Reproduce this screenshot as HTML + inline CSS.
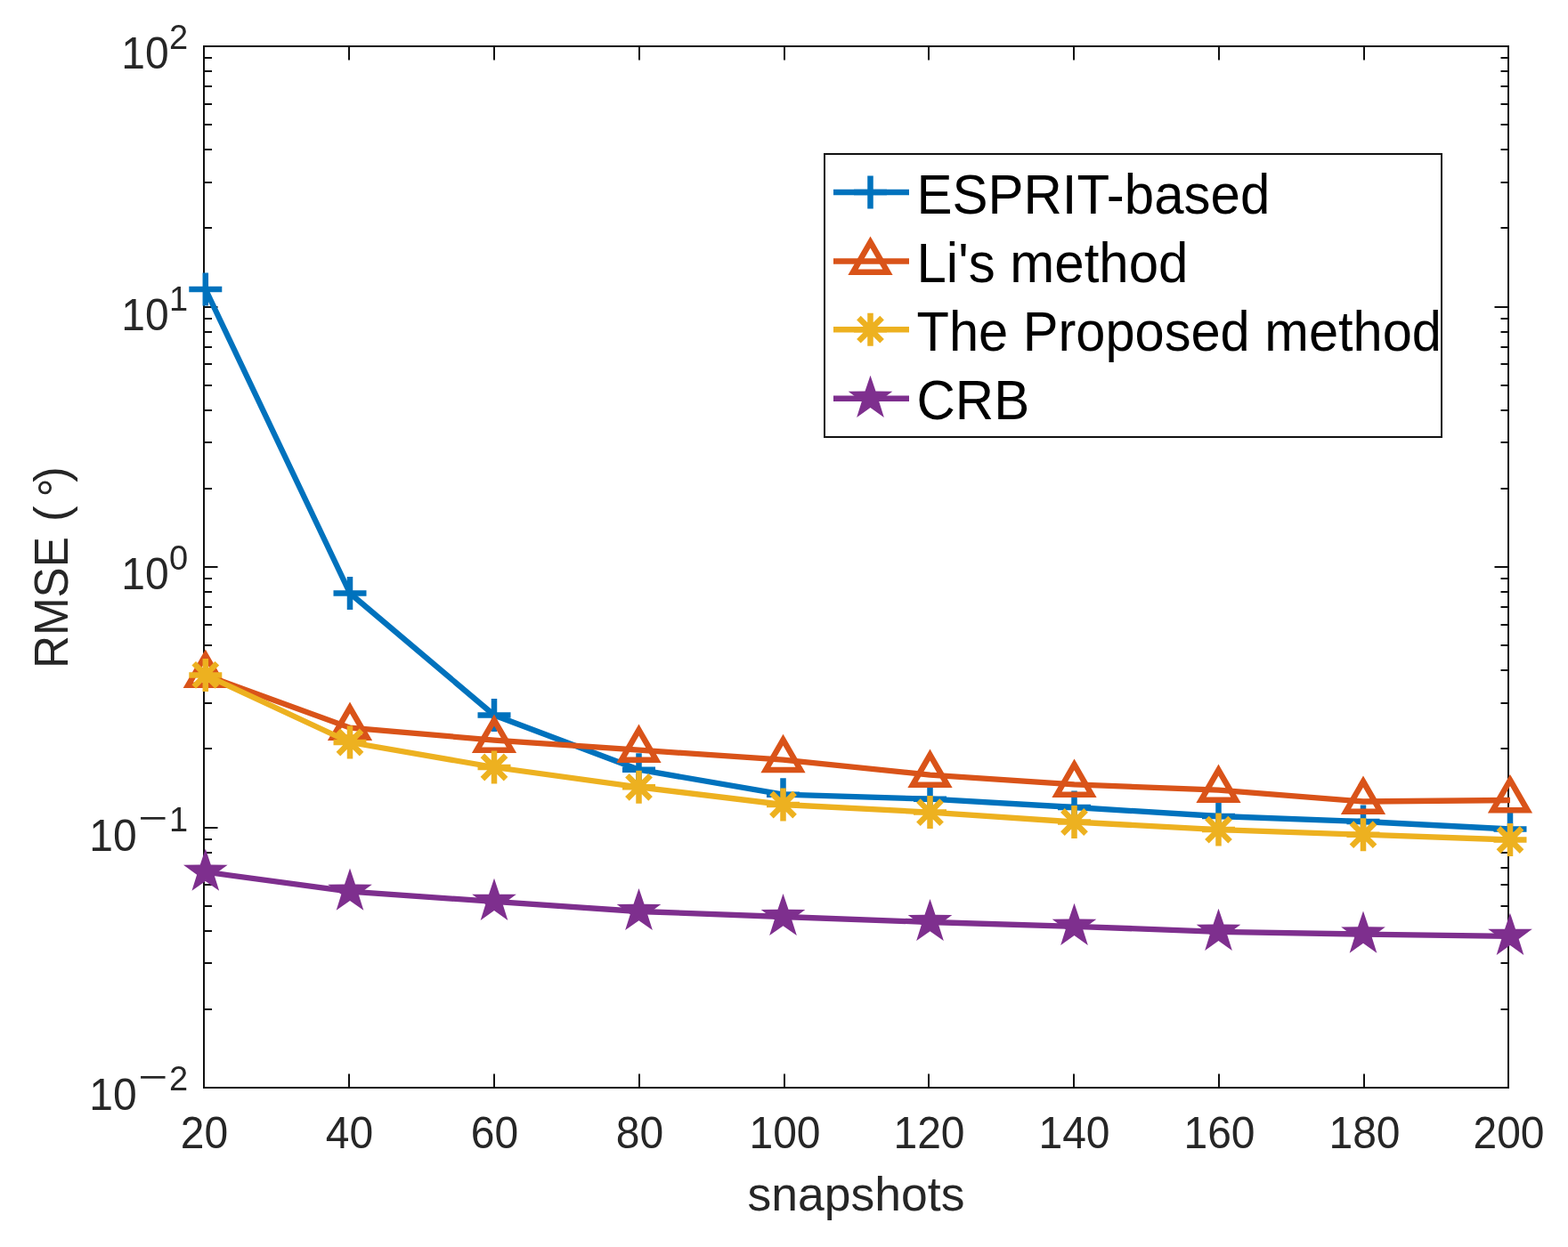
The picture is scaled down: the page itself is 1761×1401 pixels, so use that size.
<!DOCTYPE html><html><head><meta charset="utf-8"><style>
html,body{margin:0;padding:0;background:#fff;}svg{display:block;}
text{font-family:"Liberation Sans",Arial,Helvetica,sans-serif;}
</style></head><body>
<svg width="1761" height="1401" viewBox="0 0 1761 1401">
<rect x="0" y="0" width="1761" height="1401" fill="#fff"/>
<g stroke="#111111" stroke-width="2" fill="none">
<rect x="229.0" y="52.0" width="1465.0" height="1170.0"/>
<path d="M229 1222.0V1206.5M229 52.0V67.5M392 1222.0V1206.5M392 52.0V67.5M555 1222.0V1206.5M555 52.0V67.5M718 1222.0V1206.5M718 52.0V67.5M881 1222.0V1206.5M881 52.0V67.5M1043 1222.0V1206.5M1043 52.0V67.5M1206 1222.0V1206.5M1206 52.0V67.5M1369 1222.0V1206.5M1369 52.0V67.5M1532 1222.0V1206.5M1532 52.0V67.5M1694 1222.0V1206.5M1694 52.0V67.5M229.0 1134H238.0M1694.0 1134H1685.5M229.0 1082H238.0M1694.0 1082H1685.5M229.0 1046H238.0M1694.0 1046H1685.5M229.0 1018H238.0M1694.0 1018H1685.5M229.0 994H238.0M1694.0 994H1685.5M229.0 975H238.0M1694.0 975H1685.5M229.0 958H238.0M1694.0 958H1685.5M229.0 943H238.0M1694.0 943H1685.5M229.0 930H244.5M1694.0 930H1678.5M229.0 841H238.0M1694.0 841H1685.5M229.0 790H238.0M1694.0 790H1685.5M229.0 753H238.0M1694.0 753H1685.5M229.0 725H238.0M1694.0 725H1685.5M229.0 702H238.0M1694.0 702H1685.5M229.0 682H238.0M1694.0 682H1685.5M229.0 665H238.0M1694.0 665H1685.5M229.0 650H238.0M1694.0 650H1685.5M229.0 637H244.5M1694.0 637H1678.5M229.0 549H238.0M1694.0 549H1685.5M229.0 497H238.0M1694.0 497H1685.5M229.0 461H238.0M1694.0 461H1685.5M229.0 433H238.0M1694.0 433H1685.5M229.0 409H238.0M1694.0 409H1685.5M229.0 390H238.0M1694.0 390H1685.5M229.0 373H238.0M1694.0 373H1685.5M229.0 358H238.0M1694.0 358H1685.5M229.0 345H244.5M1694.0 345H1678.5M229.0 256H238.0M1694.0 256H1685.5M229.0 205H238.0M1694.0 205H1685.5M229.0 168H238.0M1694.0 168H1685.5M229.0 140H238.0M1694.0 140H1685.5M229.0 117H238.0M1694.0 117H1685.5M229.0 97H238.0M1694.0 97H1685.5M229.0 80H238.0M1694.0 80H1685.5M229.0 65H238.0M1694.0 65H1685.5"/>
</g>
<g fill="#262626" font-size="48" text-anchor="middle">
<text transform="translate(229.5,1289.5) scale(1,1.03)">20</text>
<text transform="translate(392.5,1289.5) scale(1,1.03)">40</text>
<text transform="translate(555.5,1289.5) scale(1,1.03)">60</text>
<text transform="translate(718.5,1289.5) scale(1,1.03)">80</text>
<text transform="translate(881.5,1289.5) scale(1,1.03)">100</text>
<text transform="translate(1043.5,1289.5) scale(1,1.03)">120</text>
<text transform="translate(1206.5,1289.5) scale(1,1.03)">140</text>
<text transform="translate(1369.5,1289.5) scale(1,1.03)">160</text>
<text transform="translate(1532.5,1289.5) scale(1,1.03)">180</text>
<text transform="translate(1694.5,1289.5) scale(1,1.03)">200</text>
</g>
<g fill="#262626">
<text transform="translate(136.2,76.8) scale(1.0,1.03)" font-size="48">10</text>
<text transform="translate(190,54.9) scale(1.0,1.03)" font-size="38">2</text>
<text transform="translate(136.2,370.9) scale(1.0,1.03)" font-size="48">10</text>
<text transform="translate(190,348.9) scale(1.0,1.03)" font-size="38">1</text>
<text transform="translate(136.2,661.9) scale(1.0,1.03)" font-size="48">10</text>
<text transform="translate(190,639.5) scale(1.0,1.03)" font-size="38">0</text>
<text transform="translate(100.2,956) scale(1.0,1.03)" font-size="48">10</text>
<text transform="translate(190,934.1) scale(1.0,1.03)" font-size="38">1</text>
<text transform="translate(155.2,932) scale(1.47,1.0)" font-size="38.5">&#8722;</text>
<text transform="translate(100.2,1246.9) scale(1.0,1.03)" font-size="48">10</text>
<text transform="translate(190,1224.9) scale(1.0,1.03)" font-size="38">2</text>
<text transform="translate(155.2,1222.8) scale(1.47,1.0)" font-size="38.5">&#8722;</text>
</g>
<text x="961.5" y="1360.4" font-size="53.5" text-anchor="middle" fill="#262626">snapshots</text>
<g transform="translate(76,0) rotate(-90)" fill="#262626" font-size="53">
<text transform="translate(-751.06,0) scale(0.966,1)">RMSE</text>
<text x="-585.9" y="0">(</text>
<text x="-558.5" y="5">&#176;</text>
<text x="-541.65" y="0">)</text>
</g>
<polyline points="230.8,325 393,666.5 555,803.5 717.5,864.7 879.5,892.7 1044.5,897.7 1206.5,907 1368.5,917 1531,923 1696,931.5" fill="none" stroke="#0072BD" stroke-width="6.3" stroke-linejoin="round"/>
<path d="M212.3 325H249.3M230.8 306.5V343.5M374.5 666.5H411.5M393 648V685M536.5 803.5H573.5M555 785V822M699 864.7H736M717.5 846.2V883.2M861 892.7H898M879.5 874.2V911.2M1026 897.7H1063M1044.5 879.2V916.2M1188 907H1225M1206.5 888.5V925.5M1350 917H1387M1368.5 898.5V935.5M1512.5 923H1549.5M1531 904.5V941.5M1677.5 931.5H1714.5M1696 913V950" fill="none" stroke="#0072BD" stroke-width="6.5"/>
<polyline points="230.8,758.6 393,817.6 555,831.6 717.5,842.6 879.5,853.7 1044.5,870.6 1206.5,881.4 1368.5,887.6 1531,900.5 1696,899" fill="none" stroke="#D95319" stroke-width="6.3" stroke-linejoin="round"/>
<path d="M230.8 736.1L250.29 769.85L211.31 769.85ZM393 795.1L412.49 828.85L373.51 828.85ZM555 809.1L574.49 842.85L535.51 842.85ZM717.5 820.1L736.99 853.85L698.01 853.85ZM879.5 831.2L898.99 864.95L860.01 864.95ZM1044.5 848.1L1063.99 881.85L1025.01 881.85ZM1206.5 858.9L1225.99 892.65L1187.01 892.65ZM1368.5 865.1L1387.99 898.85L1349.01 898.85ZM1531 878L1550.49 911.75L1511.51 911.75ZM1696 876.5L1715.49 910.25L1676.51 910.25Z" fill="none" stroke="#D95319" stroke-width="6.5" stroke-linejoin="miter"/>
<polyline points="230.8,758.4 393,834 555,862 717.5,884.3 879.5,904 1044.5,912.6 1206.5,923.5 1368.5,932.1 1531,937.7 1696,943.5" fill="none" stroke="#EDB120" stroke-width="6.3" stroke-linejoin="round"/>
<path d="M212.3 758.4H249.3M230.8 739.9V776.9M217.72 745.32L243.88 771.48M217.72 771.48L243.88 745.32M374.5 834H411.5M393 815.5V852.5M379.92 820.92L406.08 847.08M379.92 847.08L406.08 820.92M536.5 862H573.5M555 843.5V880.5M541.92 848.92L568.08 875.08M541.92 875.08L568.08 848.92M699 884.3H736M717.5 865.8V902.8M704.42 871.22L730.58 897.38M704.42 897.38L730.58 871.22M861 904H898M879.5 885.5V922.5M866.42 890.92L892.58 917.08M866.42 917.08L892.58 890.92M1026 912.6H1063M1044.5 894.1V931.1M1031.42 899.52L1057.58 925.68M1031.42 925.68L1057.58 899.52M1188 923.5H1225M1206.5 905V942M1193.42 910.42L1219.58 936.58M1193.42 936.58L1219.58 910.42M1350 932.1H1387M1368.5 913.6V950.6M1355.42 919.02L1381.58 945.18M1355.42 945.18L1381.58 919.02M1512.5 937.7H1549.5M1531 919.2V956.2M1517.92 924.62L1544.08 950.78M1517.92 950.78L1544.08 924.62M1677.5 943.5H1714.5M1696 925V962M1682.92 930.42L1709.08 956.58M1682.92 956.58L1709.08 930.42" fill="none" stroke="#EDB120" stroke-width="6.5"/>
<polyline points="230.8,979.7 393,1001.7 555,1012.9 717.5,1024 879.5,1030 1044.5,1036 1206.5,1040.8 1368.5,1046.8 1531,1049.6 1696,1051.9" fill="none" stroke="#7E2F8E" stroke-width="6.3" stroke-linejoin="round"/>
<path d="M230.8 953.6L236.8 971.45L255.62 971.63L240.5 982.85L246.14 1000.82L230.8 989.9L215.46 1000.82L221.1 982.85L205.98 971.63L224.8 971.45ZM393 975.6L399 993.45L417.82 993.63L402.7 1004.85L408.34 1022.82L393 1011.9L377.66 1022.82L383.3 1004.85L368.18 993.63L387 993.45ZM555 986.8L561 1004.65L579.82 1004.83L564.7 1016.05L570.34 1034.02L555 1023.1L539.66 1034.02L545.3 1016.05L530.18 1004.83L549 1004.65ZM717.5 997.9L723.5 1015.75L742.32 1015.93L727.2 1027.15L732.84 1045.12L717.5 1034.2L702.16 1045.12L707.8 1027.15L692.68 1015.93L711.5 1015.75ZM879.5 1003.9L885.5 1021.75L904.32 1021.93L889.2 1033.15L894.84 1051.12L879.5 1040.2L864.16 1051.12L869.8 1033.15L854.68 1021.93L873.5 1021.75ZM1044.5 1009.9L1050.5 1027.75L1069.32 1027.93L1054.2 1039.15L1059.84 1057.12L1044.5 1046.2L1029.16 1057.12L1034.8 1039.15L1019.68 1027.93L1038.5 1027.75ZM1206.5 1014.7L1212.5 1032.55L1231.32 1032.73L1216.2 1043.95L1221.84 1061.92L1206.5 1051L1191.16 1061.92L1196.8 1043.95L1181.68 1032.73L1200.5 1032.55ZM1368.5 1020.7L1374.5 1038.55L1393.32 1038.73L1378.2 1049.95L1383.84 1067.92L1368.5 1057L1353.16 1067.92L1358.8 1049.95L1343.68 1038.73L1362.5 1038.55ZM1531 1023.5L1537 1041.35L1555.82 1041.53L1540.7 1052.75L1546.34 1070.72L1531 1059.8L1515.66 1070.72L1521.3 1052.75L1506.18 1041.53L1525 1041.35ZM1696 1025.8L1702 1043.65L1720.82 1043.83L1705.7 1055.05L1711.34 1073.02L1696 1062.1L1680.66 1073.02L1686.3 1055.05L1671.18 1043.83L1690 1043.65Z" fill="#7E2F8E" stroke="none"/>
<rect x="926" y="173" width="693" height="318" fill="#fff" stroke="#111111" stroke-width="2"/>
<path d="M936 216H1021" stroke="#0072BD" stroke-width="6.5" fill="none"/>
<path d="M959 216H996M977.5 197.5V234.5" stroke="#0072BD" stroke-width="6.5" fill="none"/>
<text transform="translate(1029.5,239.5) scale(1.0,1.035)" font-size="60" fill="#000">ESPRIT-based</text>
<path d="M936 293.5H1021" stroke="#D95319" stroke-width="6.5" fill="none"/>
<path d="M977.5 272L996.99 305.75L958.01 305.75Z" stroke="#D95319" stroke-width="6.5" fill="none"/>
<text transform="translate(1029.5,317) scale(1.0,1.035)" font-size="60" fill="#000">Li&#39;s method</text>
<path d="M936 370.2H1021" stroke="#EDB120" stroke-width="6.5" fill="none"/>
<path d="M959 370.2H996M977.5 351.7V388.7M964.42 357.12L990.58 383.28M964.42 383.28L990.58 357.12" stroke="#EDB120" stroke-width="6.5" fill="none"/>
<text transform="translate(1029.5,393.7) scale(0.993,1.035)" font-size="60" fill="#000">The Proposed method</text>
<path d="M936 447.8H1021" stroke="#7E2F8E" stroke-width="6.5" fill="none"/>
<path d="M977.5 421.7L983.5 439.55L1002.32 439.73L987.2 450.95L992.84 468.92L977.5 458L962.16 468.92L967.8 450.95L952.68 439.73L971.5 439.55Z" fill="#7E2F8E"/>
<text transform="translate(1029.5,471.3) scale(1.0,1.035)" font-size="60" fill="#000">CRB</text>
</svg></body></html>
